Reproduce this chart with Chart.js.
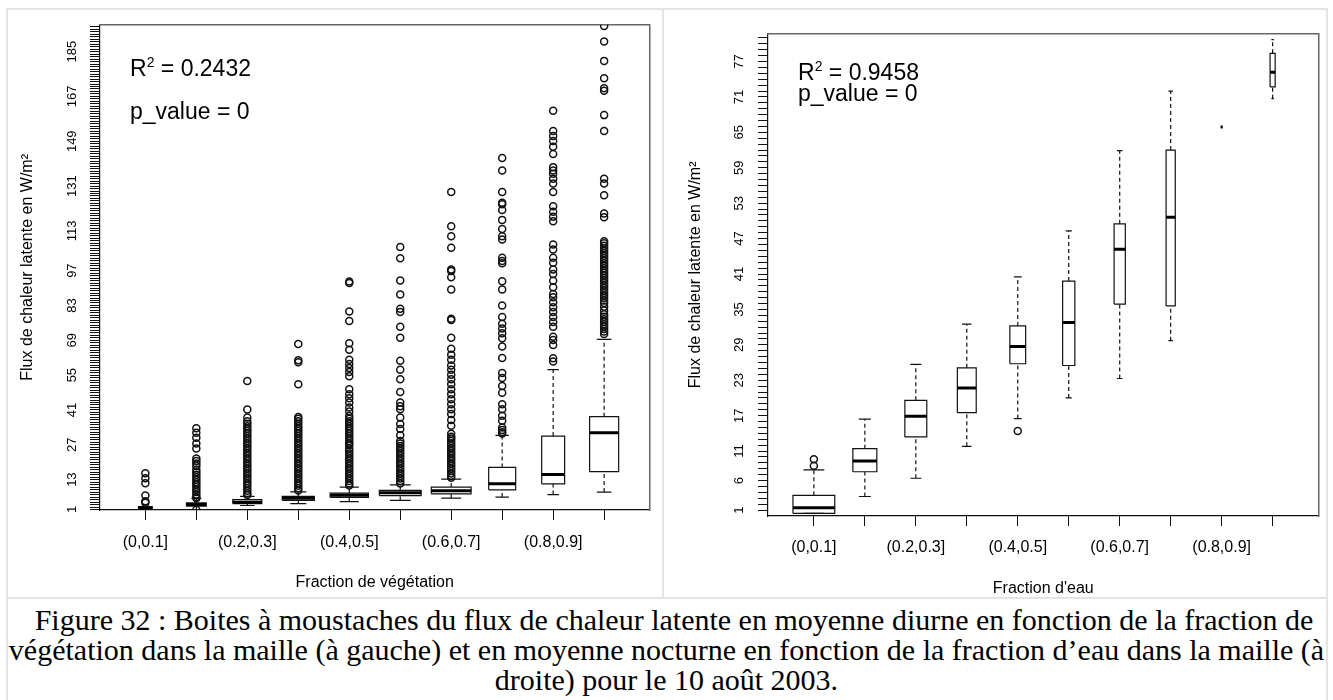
<!DOCTYPE html>
<html>
<head>
<meta charset="utf-8">
<script src="https://cdn.jsdelivr.net/npm/chart.js@4.4.1/dist/chart.umd.min.js"></script>
<style>
  body { margin: 0; background: #fff; }
  #page { position: relative; width: 1333px; height: 700px; overflow: hidden; font-family: "Liberation Sans", Arial, sans-serif; }
  .rule { position: absolute; background: #e4e4e4; }
  canvas { position: absolute; }
  .stat { position: absolute; font-size: 23px; line-height: 24px; color: #000; white-space: nowrap; }
  .stat sup { font-size: 14px; vertical-align: 9px; line-height: 0; }
  #caption { position: absolute; left: 0; top: 605px; width: 1333px; text-align: center; font-family: "Liberation Serif", "Times New Roman", serif; font-size: 30px; line-height: 30px; color: #000; white-space: nowrap; }
</style>
</head>
<body>
<div id="page">
  <div class="rule" style="left:6px; top:8px; width:1322px; height:2px;"></div>
  <div class="rule" style="left:6px; top:8px; width:2px; height:692px;"></div>
  <div class="rule" style="left:662px; top:8px; width:2px; height:590px;"></div>
  <div class="rule" style="left:1326px; top:8px; width:2px; height:692px;"></div>
  <div class="rule" style="left:6px; top:597px; width:1322px; height:2px;"></div>

  <canvas id="vegChart" width="645" height="585" style="left:10px; top:10px;"></canvas>
  <canvas id="eauChart" width="656" height="583" style="left:668px; top:15px;"></canvas>

  <div class="stat" style="left:130px; top:56px;">R<sup>2</sup> = 0.2432</div>
  <div class="stat" style="left:130px; top:99px;">p_value = 0</div>
  <div class="stat" style="left:798px; top:60px;">R<sup>2</sup> = 0.9458</div>
  <div class="stat" style="left:798px; top:81px;">p_value = 0</div>

  <div id="caption">
    <div>&nbsp;&nbsp;Figure 32 : Boites à moustaches du flux de chaleur latente en moyenne diurne en fonction de la fraction de</div>
    <div>végétation dans la maille (à gauche) et en moyenne nocturne en fonction de la fraction d’eau dans la maille (à</div>
    <div>droite) pour le 10 août 2003.</div>
  </div>
</div>

<script>
Chart.defaults.font.family = "'Liberation Sans', Arial, sans-serif";
Chart.defaults.color = "#000";

// ---- left panel: fraction de végétation ----
const vegCategories = ["(0,0.1]", "(0.1,0.2]", "(0.2,0.3]", "(0.3,0.4]", "(0.4,0.5]", "(0.5,0.6]", "(0.6,0.7]", "(0.7,0.8]", "(0.8,0.9]", "(0.9,1]"];
const vegTickLabels = ["(0,0.1]", "", "(0.2,0.3]", "", "(0.4,0.5]", "", "(0.6,0.7]", "", "(0.8,0.9]", ""];
const vegYLabels = [1, 13, 27, 41, 55, 69, 83, 97, 113, 131, 149, 167, 185];
const vegLow = [0.8, 1.0, 2.6, 3.4, 4.2, 4.7, 5.6, 6.0, 7.0, 8.0];
const vegQ1 = [1.1, 2.3, 3.4, 4.7, 5.9, 6.6, 7.3, 8.9, 11.3, 16.2];
const vegMedian = [1.5, 3.0, 3.9, 5.5, 6.7, 7.7, 8.5, 11.3, 15.1, 31.8];
const vegQ3 = [2.2, 3.7, 5.0, 6.3, 7.6, 8.7, 10.0, 17.9, 30.5, 38.3];
const vegHigh = [3.0, 5.5, 6.3, 8.1, 10.0, 10.9, 13.2, 30.8, 57.2, 69.4];
const vegWidths = [0.27, 0.39, 0.57, 0.63, 0.75, 0.82, 0.78, 0.53, 0.45, 0.57];
const vegOutliers = [
  [3.7, 4.3, 6.6, 11.6, 13.6, 15.6],
  [0.9, 5.5, 6, 7, 8, 9, 10, 11, 12, 13, 14, 15, 16, 17, 18.5, 19.5, 20.5, 21.5, 25.5, 27.5, 29.8, 31.8, 33.7],
  [6.8, 7.5, 8.5, 9.5, 10.5, 11.5, 12.5, 13.5, 14.5, 15.5, 16.5, 17.5, 18.5, 19.5, 20.5, 21.5, 22.5, 23.5, 24.5, 25.5, 26.5, 27.5, 28.5, 29.5, 30.5, 31.5, 32.5, 33.5, 34.5, 35.5, 36.5, 38, 41.2, 52.6],
  [8.6, 9.5, 10.5, 11.5, 12.5, 13.5, 14.5, 15.5, 16.5, 17.5, 18.5, 19.5, 20.5, 21.5, 22.5, 23.5, 24.5, 25.5, 26.5, 27.5, 28.5, 29.5, 30.5, 31.5, 32.5, 33.5, 34.5, 35.5, 36.5, 37.5, 38.2, 51.3, 60.2, 61, 67.5],
  [10.6, 11.5, 12.5, 13.5, 14.5, 15.5, 16.5, 17.5, 18.5, 19.5, 20.5, 21.5, 22.5, 23.5, 24.5, 25.5, 26.8, 27.5, 28.5, 29.5, 30.5, 31.5, 32.5, 33.5, 34.5, 35.5, 36.5, 37.5, 38.6, 40.4, 42, 44, 45.7, 47.3, 49.3, 54.6, 56.3, 57.9, 59.5, 61.2, 65.2, 67.8, 76.8, 80.6, 92, 92.6],
  [11.5, 12.5, 13.5, 14.5, 15.5, 16.5, 17.5, 18.5, 19.5, 20.5, 21.5, 22.5, 23.5, 24.5, 25.5, 26.5, 27.5, 28.5, 30.8, 33.4, 35.4, 38, 41.3, 42.5, 44, 48.2, 53.3, 57.2, 60.8, 70, 74.4, 80.4, 81.7, 87.4, 93, 102, 106.5],
  [13.8, 14.5, 15.5, 16.5, 17.5, 18.5, 19.5, 20.5, 21.5, 22.5, 23.5, 24.5, 25.5, 26.5, 27.5, 28.5, 29.5, 30.2, 31.4, 34.7, 37, 39.4, 41.3, 43.3, 45.3, 47.3, 49.3, 51.3, 53.3, 55.2, 57.2, 58.9, 61.2, 63.2, 65.6, 70, 77.2, 77.7, 89.4, 94.3, 96.9, 97.5, 106.2, 110.8, 114.8, 128.6],
  [31.5, 32, 33, 34, 36.7, 38.7, 41.3, 43.3, 47.9, 50.6, 53.9, 55.9, 61.9, 66.5, 69.8, 71.8, 73.7, 75.7, 78.4, 83, 89.4, 92.7, 100, 100.9, 102.2, 109.5, 110.8, 113.7, 117.4, 121.4, 123.7, 124.3, 128.6, 137.2, 142.3],
  [60.5, 61.8, 67.1, 69.1, 70.4, 74.4, 76.4, 78.4, 80.4, 82.3, 84.3, 86.3, 87.6, 90.3, 92.9, 95.6, 97.5, 100.2, 102.2, 105.5, 107.5, 116.8, 118.7, 120.7, 122.9, 128.6, 132, 133.9, 135.9, 137.2, 138.6, 143.9, 146.8, 149.1, 151.1, 153.1, 161.3],
  [71.5, 72.5, 73.5, 74.5, 75.5, 76.5, 77.5, 78.5, 79.5, 81, 82.5, 84, 85, 86, 87, 88, 89, 90, 91, 92, 93, 94, 95, 96, 97, 98, 99, 100, 101, 102, 103, 104, 105, 106, 107, 108, 108.8, 118.5, 120, 127.3, 132, 133.9, 153.1, 159.5, 169.3, 170.3, 174.3, 181.3, 189.1, 195.3]
];

// ---- right panel: fraction d'eau ----
const eauCategories = ["(0,0.1]", "(0.1,0.2]", "(0.2,0.3]", "(0.3,0.4]", "(0.4,0.5]", "(0.5,0.6]", "(0.6,0.7]", "(0.7,0.8]", "(0.8,0.9]", "(0.9,1]"];
const eauTickLabels = ["(0,0.1]", "", "(0.2,0.3]", "", "(0.4,0.5]", "", "(0.6,0.7]", "", "(0.8,0.9]", ""];
const eauYLabels = [1, 6, 11, 17, 23, 29, 35, 41, 47, 53, 59, 65, 71, 77];
const eauLow = [0.45, 3.3, 6.4, 11.8, 16.5, 20.0, 23.3, 29.7, 65.9, 70.7];
const eauQ1 = [0.45, 7.5, 13.4, 17.5, 25.8, 25.5, 35.9, 35.6, 65.9, 72.7];
const eauMedian = [1.4, 9.3, 16.9, 21.7, 28.7, 32.8, 45.2, 50.6, 65.9, 75.2];
const eauQ3 = [3.5, 11.4, 19.6, 25.1, 32.2, 39.8, 49.5, 62.0, 65.9, 78.4];
const eauHigh = [7.8, 16.4, 25.7, 32.5, 40.5, 48.3, 61.9, 72.0, 65.9, 80.7];
const eauWidths = [0.82, 0.47, 0.43, 0.37, 0.31, 0.24, 0.22, 0.18, 0.04, 0.1];
const eauOutliers = [[8.5, 9.6], [], [], [], [14.4], [], [], [], [], []];

// builds the box, median, whisker, staple and outlier datasets
function boxDatasets(low, q1, med, q3, high, widths, outliers) {
  const boxes = [], medians = [], whiskers = [], staples = [], points = [];
  low.forEach((_, i) => {
    const w = widths[i] / 2;
    const s = widths[i] / 4;
    boxes.push({x: i - w, y: q1[i]}, {x: i + w, y: q1[i]}, {x: i + w, y: q3[i]}, {x: i - w, y: q3[i]}, {x: i - w, y: q1[i]}, {x: i, y: null});
    medians.push({x: i - w, y: med[i]}, {x: i + w, y: med[i]}, {x: i, y: null});
    whiskers.push({x: i, y: q3[i]}, {x: i, y: high[i]}, {x: i, y: null}, {x: i, y: low[i]}, {x: i, y: q1[i]}, {x: i, y: null});
    staples.push({x: i - s, y: high[i]}, {x: i + s, y: high[i]}, {x: i, y: null}, {x: i - s, y: low[i]}, {x: i + s, y: low[i]}, {x: i, y: null});
    outliers[i].forEach((v) => points.push({x: i, y: v}));
  });
  const line = {showLine: true, pointRadius: 0, fill: false, tension: 0, spanGaps: false, borderColor: "#111"};
  return [
    {...line, data: medians, borderWidth: 3, borderColor: "#000"},
    {...line, data: boxes, borderWidth: 1.2},
    {...line, data: staples, borderWidth: 1.2},
    {...line, data: whiskers, borderWidth: 1.2, borderDash: [4, 3]},
    {data: points, showLine: false, pointRadius: 3.5, pointStyle: "circle", pointBackgroundColor: "rgba(0,0,0,0)", pointBorderColor: "#111", pointBorderWidth: 1.5}
  ];
}

function makeChart(canvasId, cfg) {
  const frame = {display: true, color: "#666", width: 1.5};
  return new Chart(document.getElementById(canvasId), {
    type: "scatter",
    data: {datasets: boxDatasets(cfg.low, cfg.q1, cfg.med, cfg.q3, cfg.high, cfg.widths, cfg.outliers)},
    options: {
      responsive: false,
      animation: false,
      events: [],
      layout: {padding: {top: 10, right: 5, bottom: 0, left: 0}},
      plugins: {legend: {display: false}, tooltip: {enabled: false}},
      scales: {
        x: {
          type: "linear", position: "bottom", min: cfg.xMin, max: cfg.xMax,
          afterBuildTicks: (s) => { s.ticks = cfg.categories.map((c, i) => ({value: i})); },
          afterFit: (s) => { s.height = cfg.xHeight; },
          ticks: {autoSkip: false, maxRotation: 0, padding: cfg.xPad, font: {size: 16}, callback: (v) => cfg.tickLabels[v] || ""},
          grid: {drawOnChartArea: false, drawTicks: true, tickLength: 10, tickColor: "#111"},
          border: {display: true, color: "#111", width: 1.2},
          title: {display: true, text: cfg.xTitle, font: {size: 16}, padding: {top: 0, bottom: cfg.xTitlePad}}
        },
        y: {
          type: "linear", position: "left", min: cfg.yMin, max: cfg.yMax,
          afterBuildTicks: (s) => {
            const t = [];
            for (let v = 1; v <= s.max; v++) t.push({value: v});
            s.ticks = t;
          },
          afterFit: (s) => { s.width = cfg.yWidth; },
          ticks: {autoSkip: false, minRotation: 90, maxRotation: 90, crossAlign: "center", padding: cfg.yPad, font: {size: 13}, callback: (v) => (cfg.yLabels.includes(v) ? String(v) : "")},
          grid: {drawOnChartArea: false, drawTicks: true, tickLength: 10, tickColor: "#111"},
          border: {display: true, color: "#111", width: 1.2},
          title: {display: true, text: "Flux de chaleur latente en W/m²", font: {size: 16}, padding: {top: cfg.yTitlePad, bottom: 0}}
        },
        xTop: {
          type: "linear", position: "top", ticks: {display: false}, grid: {display: false, drawTicks: false},
          border: frame, afterFit: (s) => { s.height = 0; }
        },
        yRight: {
          type: "linear", position: "right", ticks: {display: false}, grid: {display: false, drawTicks: false},
          border: frame, afterFit: (s) => { s.width = 0; }
        }
      }
    }
  });
}

makeChart("vegChart", {
  categories: vegCategories, tickLabels: vegTickLabels, yLabels: vegYLabels,
  low: vegLow, q1: vegQ1, med: vegMedian, q3: vegQ3, high: vegHigh, widths: vegWidths, outliers: vegOutliers,
  xMin: -0.89, xMax: 9.89, yMin: 0.8, yMax: 195.8,
  xHeight: 85, yWidth: 90, xPad: 13, yPad: 7, xTitlePad: 3, yTitlePad: 8,
  xTitle: "Fraction de végétation"
});

makeChart("eauChart", {
  categories: eauCategories, tickLabels: eauTickLabels, yLabels: eauYLabels,
  low: eauLow, q1: eauQ1, med: eauMedian, q3: eauQ3, high: eauHigh, widths: eauWidths, outliers: eauOutliers,
  xMin: -0.9, xMax: 9.9, yMin: 0, yMax: 81.7,
  xHeight: 82, yWidth: 100, xPad: 12, yPad: 11, xTitlePad: 0, yTitlePad: 18,
  xTitle: "Fraction d'eau"
});
</script>
</body>
</html>
